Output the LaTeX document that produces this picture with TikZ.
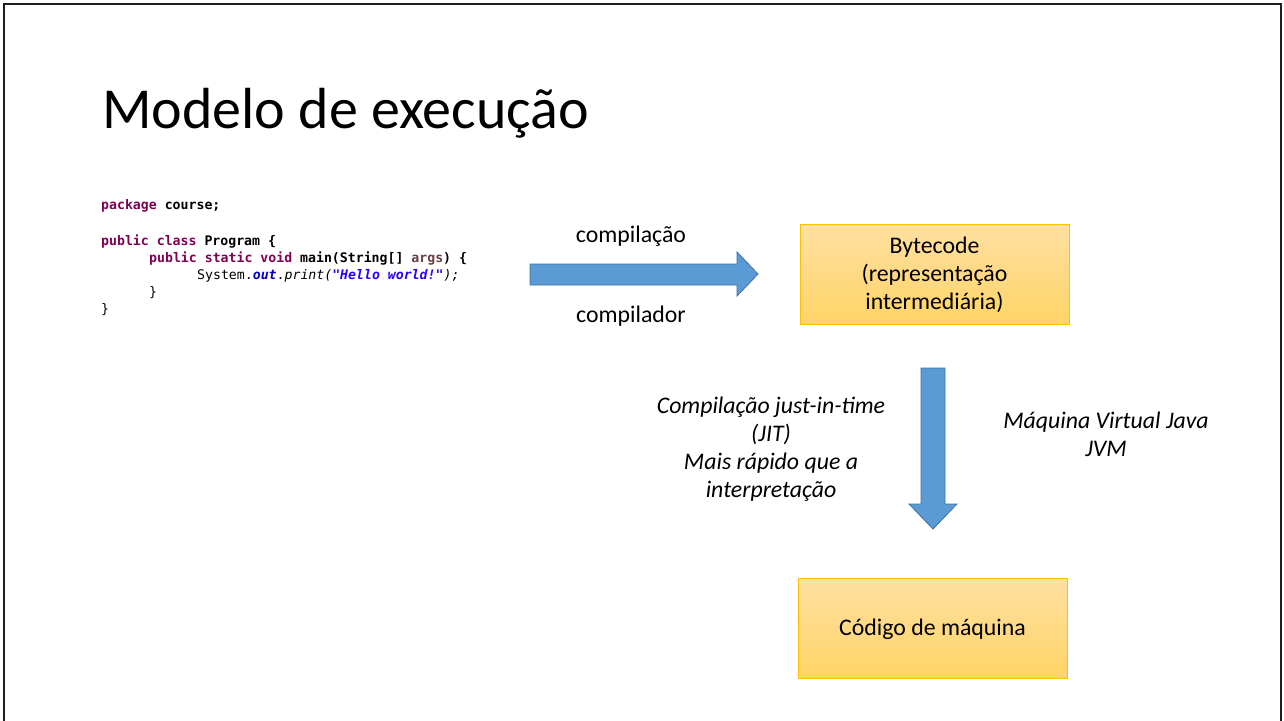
\documentclass[tikz,border=0pt]{standalone}
\usepackage{fontspec}
\setmainfont{Carlito}
\newfontfamily\codefont{DejaVu Sans Mono}
\usetikzlibrary{positioning}
\definecolor{arrowfill}{RGB}{91,155,213}
\definecolor{arrowline}{RGB}{65,113,156}
\definecolor{boxtop}{RGB}{255,224,162}
\definecolor{boxbot}{RGB}{255,212,102}
\definecolor{boxline}{RGB}{255,192,0}
\definecolor{kw}{RGB}{127,0,85}
\definecolor{argc}{RGB}{106,62,62}
\definecolor{fieldc}{RGB}{0,0,192}
\definecolor{strc}{RGB}{42,0,255}
\definecolor{framec}{RGB}{30,30,30}
\tikzset{
  codeline/.style={anchor=base west, inner sep=0pt, font=\codefont\fontsize{13.2}{17}\selectfont},
  lbl/.style={font=\fontsize{23.8}{28}\selectfont, align=center, inner sep=0pt},
  ilbl/.style={font=\fontsize{23.8}{28}\selectfont\itshape, align=center, inner sep=0pt},
  gbox/.style={draw=boxline, line width=1pt, top color=boxtop, bottom color=boxbot},
  blockarrow/.style={fill=arrowfill, draw=arrowline, line width=0.8pt}
}
\begin{document}
\begin{tikzpicture}[x=1pt,y=-1pt]
\useasboundingbox (0,0) rectangle (1284,720);
\fill[white] (0,0) rectangle (1284,720);
% frame
\draw[framec, line width=2pt] (4,722) -- (4,4) -- (1281,4) -- (1281,722);
% title
\node[anchor=base west, inner sep=0pt, font=\fontsize{58}{60}\selectfont] (title) at (102,128) {Modelo de execução};
% code
\node[codeline] (c1) at (101,209) {\textcolor{kw}{\bfseries package} \bfseries course;};
\node[codeline] (c2) at (101,245) {\bfseries\textcolor{kw}{public class} Program \{};
\node[codeline] (c3) at (149,262) {\bfseries\textcolor{kw}{public static void} main(String[] \textcolor{argc}{args}) \{};
\node[codeline] (c4) at (197,279) {System.\textcolor{fieldc}{\bfseries\itshape out}.\textit{print(}\textcolor{strc}{\bfseries\itshape "Hello world!"}\textit{);}};
\node[codeline] (c5) at (149,296) {\}};
\node[codeline] (c6) at (101,313) {\}};
% right arrow
\draw[blockarrow] (530,264) -- (737,264) -- (737,252) -- (758,274) -- (737,296) -- (737,285) -- (530,285) -- cycle;
\node[lbl] (comp) at (631,236) {compilação};
\node[lbl] (compr) at (631,316) {compilador};
% bytecode box
\path[gbox] (800,224) rectangle (1069,324);
\node[lbl] (byte) at (934.5,275) {Bytecode\\(representação\\intermediária)};
% down arrow
\draw[blockarrow] (921,368) -- (945,368) -- (945,504) -- (957,504) -- (933,529) -- (909,504) -- (921,504) -- cycle;
\node[ilbl] (jit) at (771,449) {Compilação just-in-time\\(JIT)\\Mais rápido que a\\interpretação};
\node[ilbl] (jvm) at (1106,434) {Máquina Virtual Java\\JVM};
% machine code box
\path[gbox] (798,578) rectangle (1067,678);
\node[lbl] (mc) at (932.5,629) {Código de máquina};
\end{tikzpicture}
\end{document}
